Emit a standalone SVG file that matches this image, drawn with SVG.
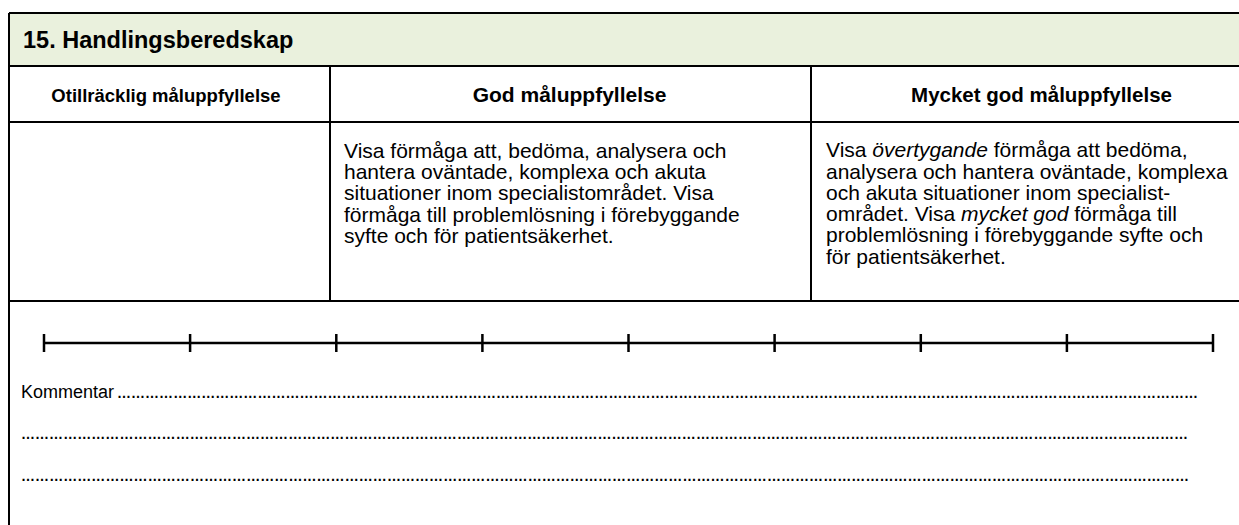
<svg xmlns="http://www.w3.org/2000/svg" width="1239" height="525" viewBox="0 0 1239 525">
<style>
.t{font-family:"Liberation Sans",Arial,sans-serif;fill:#000}
.b{font-weight:bold}
.body{font-size:21px}
.dots{font-size:14px;font-weight:bold}
.grid{stroke:#000;stroke-width:2;fill:none}
.scale{stroke:#000;stroke-width:2.5;fill:none}
</style>
<rect width="1239" height="525" fill="#fff"/>
<g id="header">
<rect x="9" y="13" width="1240" height="53" fill="#EAF1DD"/>
<text class="t b" x="23" y="47.5" font-size="23.5">15. Handlingsberedskap</text>
</g>
<g id="grid">
<path class="grid" d="M9 13H1240M9 13V525M9 66H1240M9 122H1240M9 301H1240M330 66V301M811 66V301"/>
</g>
<g id="col1">
<text class="t b" x="166" y="101.5" font-size="18.5" text-anchor="middle">Otillräcklig måluppfyllelse</text>
</g>
<g id="col2">
<text class="t b" x="569.5" y="102" font-size="21" text-anchor="middle">God måluppfyllelse</text>
<text class="t body" x="344" y="157.7">Visa förmåga att, bedöma, analysera och</text>
<text class="t body" x="344" y="179">hantera oväntade, komplexa och akuta</text>
<text class="t body" x="344" y="200.3">situationer inom specialistområdet. Visa</text>
<text class="t body" x="344" y="221.6">förmåga till problemlösning i förebyggande</text>
<text class="t body" x="344" y="242.9">syfte och för patientsäkerhet.</text>
</g>
<g id="col3">
<text class="t b" x="1041.5" y="102" font-size="20.5" text-anchor="middle">Mycket god måluppfyllelse</text>
<text class="t body" x="826" y="157.2">Visa <tspan font-style="italic">övertygande</tspan> förmåga att bedöma,</text>
<text class="t body" x="826" y="178.5">analysera och hantera oväntade, komplexa</text>
<text class="t body" x="826" y="199.8">och akuta situationer inom specialist-</text>
<text class="t body" x="826" y="221.1">området. Visa <tspan font-style="italic">mycket god</tspan> förmåga till</text>
<text class="t body" x="826" y="242.4">problemlösning i förebyggande syfte och</text>
<text class="t body" x="826" y="263.7">för patientsäkerhet.</text>
</g>
<g id="scale">
<path class="scale" d="M44 343H1213" stroke-width="2"/>
<path class="scale" d="M44 334V352M190.1 334V352M336.3 334V352M482.4 334V352M628.5 334V352M774.6 334V352M920.8 334V352M1066.9 334V352M1213 334V352"/>
</g>
<g id="comments">
<text class="t" x="21" y="397.5" font-size="18">Kommentar</text>
<text class="t dots" x="117" y="397.5" textLength="1081" lengthAdjust="spacing">&#8230;&#8230;&#8230;&#8230;&#8230;&#8230;&#8230;&#8230;&#8230;&#8230;&#8230;&#8230;&#8230;&#8230;&#8230;&#8230;&#8230;&#8230;&#8230;&#8230;&#8230;&#8230;&#8230;&#8230;&#8230;&#8230;&#8230;&#8230;&#8230;&#8230;&#8230;&#8230;&#8230;&#8230;&#8230;&#8230;&#8230;&#8230;&#8230;&#8230;&#8230;&#8230;&#8230;&#8230;&#8230;&#8230;&#8230;&#8230;&#8230;&#8230;&#8230;&#8230;&#8230;&#8230;&#8230;&#8230;&#8230;&#8230;&#8230;&#8230;&#8230;&#8230;&#8230;&#8230;&#8230;&#8230;&#8230;&#8230;&#8230;&#8230;&#8230;&#8230;&#8230;&#8230;&#8230;&#8230;&#8230;</text>
<text class="t dots" x="21" y="438.5" textLength="1167" lengthAdjust="spacing">&#8230;&#8230;&#8230;&#8230;&#8230;&#8230;&#8230;&#8230;&#8230;&#8230;&#8230;&#8230;&#8230;&#8230;&#8230;&#8230;&#8230;&#8230;&#8230;&#8230;&#8230;&#8230;&#8230;&#8230;&#8230;&#8230;&#8230;&#8230;&#8230;&#8230;&#8230;&#8230;&#8230;&#8230;&#8230;&#8230;&#8230;&#8230;&#8230;&#8230;&#8230;&#8230;&#8230;&#8230;&#8230;&#8230;&#8230;&#8230;&#8230;&#8230;&#8230;&#8230;&#8230;&#8230;&#8230;&#8230;&#8230;&#8230;&#8230;&#8230;&#8230;&#8230;&#8230;&#8230;&#8230;&#8230;&#8230;&#8230;&#8230;&#8230;&#8230;&#8230;&#8230;&#8230;&#8230;&#8230;&#8230;&#8230;&#8230;&#8230;&#8230;&#8230;&#8230;</text>
<text class="t dots" x="21" y="481" textLength="1168" lengthAdjust="spacing">&#8230;&#8230;&#8230;&#8230;&#8230;&#8230;&#8230;&#8230;&#8230;&#8230;&#8230;&#8230;&#8230;&#8230;&#8230;&#8230;&#8230;&#8230;&#8230;&#8230;&#8230;&#8230;&#8230;&#8230;&#8230;&#8230;&#8230;&#8230;&#8230;&#8230;&#8230;&#8230;&#8230;&#8230;&#8230;&#8230;&#8230;&#8230;&#8230;&#8230;&#8230;&#8230;&#8230;&#8230;&#8230;&#8230;&#8230;&#8230;&#8230;&#8230;&#8230;&#8230;&#8230;&#8230;&#8230;&#8230;&#8230;&#8230;&#8230;&#8230;&#8230;&#8230;&#8230;&#8230;&#8230;&#8230;&#8230;&#8230;&#8230;&#8230;&#8230;&#8230;&#8230;&#8230;&#8230;&#8230;&#8230;&#8230;&#8230;&#8230;&#8230;&#8230;&#8230;</text>
</g>
</svg>
